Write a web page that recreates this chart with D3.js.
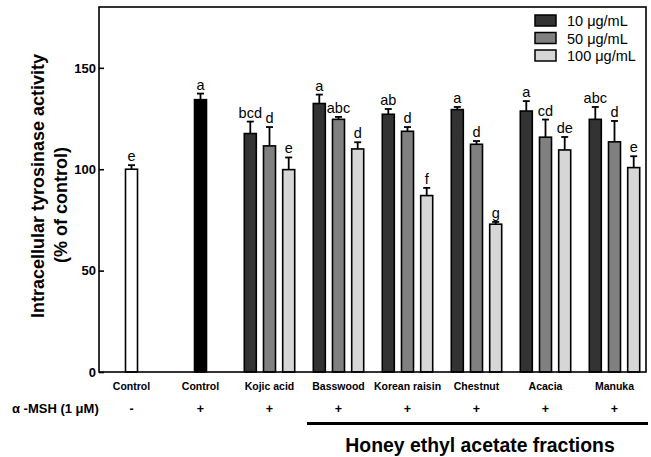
<!DOCTYPE html>
<html><head><meta charset="utf-8">
<script src="https://cdn.jsdelivr.net/npm/d3@7"></script>
<style>
body{margin:0;background:#fff}
svg{display:block}
text{font-family:"Liberation Sans",Arial,sans-serif;fill:#000}
</style>
</head><body>
<svg id="chart" width="651" height="457"></svg>
<script>
// ---- data ----
const groupIds = ["ctl","msh","kojic","bass","kr","chest","acacia","manuka"];
const categoryLabels = ["Control","Control","Kojic acid","Basswood","Korean raisin","Chestnut","Acacia","Manuka"];
const mshSigns = ["-","+","+","+","+","+","+","+"];
const concentrations = ["10 μg/mL","50 μg/mL","100 μg/mL"];
const concentrationFills = ["#333333","#808080","#d6d6d6"];

const controlMeans = [100, 134.3];
const controlErrors = [2, 3];
const controlLetters = ["e","a"];
const controlFills = ["#ffffff","#000000"];

const means10   = [117.6,132.4,127.1,129.4,128.7,124.6];
const errors10  = [5.9,4.4,2.6,1.3,4.9,6.1];
const letters10 = ["bcd","a","ab","a","a","abc"];
const means50   = [111.5,124.6,118.7,112.3,115.8,113.5];
const errors50  = [9.3,1.2,2.1,1.6,8.7,10.3];
const letters50 = ["d","abc","d","d","cd","d"];
const means100  = [99.8,110.0,87.0,72.9,109.5,100.8];
const errors100 = [6.0,3.3,3.8,1.1,6.4,5.6];
const letters100= ["e","d","f","g","de","e"];

const yTicks = [0,50,100,150];
const yTitle1 = "Intracellular tyrosinase activity";
const yTitle2 = "(% of control)";
const mshLabel = "α -MSH (1 μM)";
const fractionLabel = "Honey ethyl acetate fractions";

// ---- build records ----
const bars = [];
controlMeans.forEach((m,i)=>bars.push({g:groupIds[i], s:1, v:m, e:controlErrors[i], l:controlLetters[i], f:controlFills[i]}));
const seriesMeans=[means10,means50,means100], seriesErr=[errors10,errors50,errors100], seriesLet=[letters10,letters50,letters100];
groupIds.slice(2).forEach((g,j)=>{
  for(let s=0;s<3;s++) bars.push({g, s, v:seriesMeans[s][j], e:seriesErr[s][j], l:seriesLet[s][j], f:concentrationFills[s]});
});

// ---- scales ----
const svg = d3.select("#chart");
const pLeft=99, pRight=646, pTop=7, pBottom=372;
const x = d3.scaleBand().domain(groupIds).range([97,649]).padding(0);
const sub = d3.scaleBand().domain([0,1,2]).range([-28.8,28.8]).paddingInner(0.375).paddingOuter(0.1875);
const y = d3.scaleLinear().domain([0,180]).range([pBottom,pTop]);
const cx = g => x(g)+x.bandwidth()/2;

// bars
svg.append("g").selectAll("rect").data(bars).join("rect")
  .attr("x", d=>cx(d.g)+sub(d.s)).attr("width", sub.bandwidth())
  .attr("y", d=>y(d.v)).attr("height", d=>y(0)-y(d.v))
  .attr("fill", d=>d.f).attr("stroke","#000").attr("stroke-width",1.6);

// error bars
const eb = svg.append("g").attr("stroke","#000").attr("stroke-width",1.8);
bars.forEach(d=>{
  const bx = cx(d.g)+sub(d.s)+sub.bandwidth()/2;
  eb.append("line").attr("x1",bx).attr("x2",bx).attr("y1",y(d.v)).attr("y2",y(d.v+d.e));
  eb.append("line").attr("x1",bx-3.5).attr("x2",bx+3.5).attr("y1",y(d.v+d.e)).attr("y2",y(d.v+d.e));
});
// letters
svg.append("g").selectAll("text").data(bars).join("text")
  .attr("x", d=>cx(d.g)+sub(d.s)+sub.bandwidth()/2)
  .attr("y", d=>y(d.v+d.e)-4)
  .attr("text-anchor","middle").attr("font-size","14.5px").text(d=>d.l);

// frame
svg.append("rect").attr("x",pLeft).attr("y",pTop).attr("width",pRight-pLeft).attr("height",pBottom-pTop)
  .attr("fill","none").attr("stroke","#000").attr("stroke-width",1.6);

// y axis
const ya = svg.append("g").attr("transform",`translate(${pLeft},0)`)
  .call(d3.axisLeft(y).tickValues(yTicks).tickSize(-5).tickPadding(3));
ya.select(".domain").remove();
ya.selectAll(".tick line").attr("stroke","#000").attr("stroke-width",1.6);
ya.selectAll(".tick text").attr("font-size","13px").attr("font-weight","bold")
  .attr("font-family","'Liberation Sans',Arial,sans-serif").attr("fill","#000");

// y title
svg.append("text").attr("transform","translate(43.5,186) rotate(-90)").attr("text-anchor","middle")
  .attr("font-size","18px").attr("font-weight","bold").text(yTitle1);
svg.append("text").attr("transform","translate(67,205) rotate(-90)").attr("text-anchor","middle")
  .attr("font-size","18px").attr("font-weight","bold").text(yTitle2);

// category labels
svg.append("g").selectAll("text").data(groupIds).join("text")
  .attr("x", g=>cx(g)).attr("y",389.5).attr("text-anchor","middle")
  .attr("font-size","10.5px").attr("font-weight","bold").text((g,i)=>categoryLabels[i]);
// MSH row
svg.append("text").attr("x",12).attr("y",412.5).attr("font-size","13px").attr("font-weight","bold").text(mshLabel);
svg.append("g").selectAll("text").data(groupIds).join("text")
  .attr("x", g=>cx(g)).attr("y",412.5).attr("text-anchor","middle")
  .attr("font-size","12.5px").attr("font-weight","bold").text((g,i)=>mshSigns[i]);

// honey fractions bracket
svg.append("line").attr("x1",x("bass")+3).attr("x2",x("manuka")+x.bandwidth()-1)
  .attr("y1",423.5).attr("y2",423.5).attr("stroke","#000").attr("stroke-width",3);
svg.append("text").attr("x",480).attr("y",451.5).attr("text-anchor","middle")
  .attr("font-size","19.4px").attr("font-weight","bold").text(fractionLabel);

// legend
const lg = svg.append("g").selectAll("g").data(concentrations).join("g")
  .attr("transform",(d,i)=>`translate(535,${15+i*17.5})`);
lg.append("rect").attr("width",21).attr("height",11).attr("fill",(d,i)=>concentrationFills[i])
  .attr("stroke","#000").attr("stroke-width",1.5);
lg.append("text").attr("x",32).attr("y",11).attr("font-size","14.5px").text(d=>d);
</script>
</body></html>
